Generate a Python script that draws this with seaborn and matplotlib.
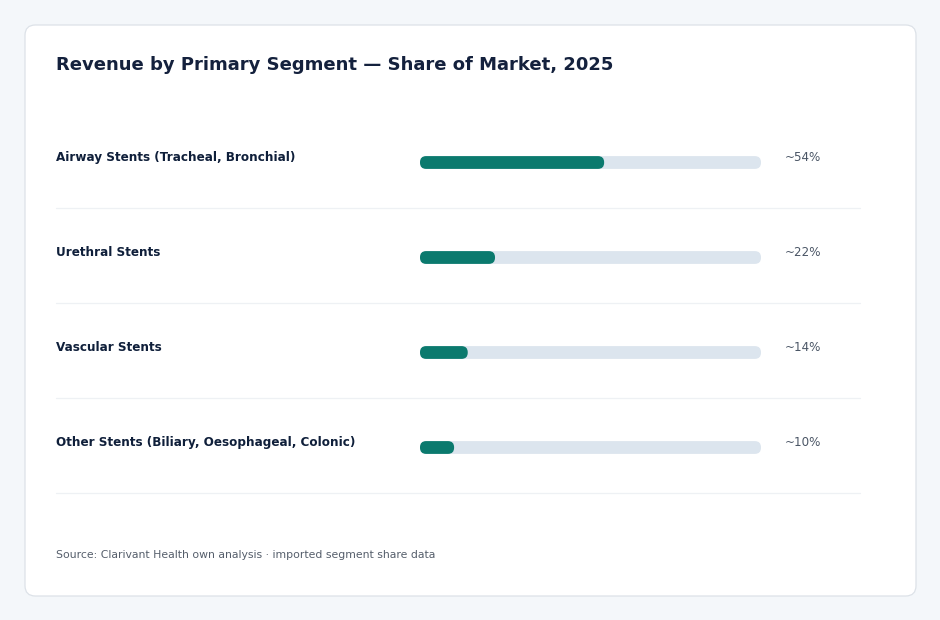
import matplotlib
matplotlib.use('Agg')
import matplotlib.pyplot as plt
import matplotlib.transforms as mtransforms
from matplotlib.patches import FancyBboxPatch
import seaborn as sns
import pandas as pd

sns.set_style('white')
plt.rcParams['font.family'] = ['DejaVu Sans']

# data
segments = ['Airway Stents (Tracheal, Bronchial)', 'Urethral Stents',
            'Vascular Stents', 'Other Stents (Biliary, Oesophageal, Colonic)']
shares = [54, 22, 14, 10]
share_labels = ['~54%', '~22%', '~14%', '~10%']
title = 'Revenue by Primary Segment \u2014 Share of Market, 2025'
source = 'Source: Clarivant Health own analysis \u00b7 imported segment share data'

df = pd.DataFrame({'segment': segments, 'share': shares, 'track': [100] * len(segments)})

W, H = 940, 620
fig = plt.figure(figsize=(W / 100, H / 100), dpi=100)
fig.patch.set_facecolor('#f4f7fa')

# card
card = FancyBboxPatch((25 / W, 1 - 596 / H), 891 / W, 571 / H,
                      boxstyle='round,pad=0,rounding_size=0.011',
                      mutation_aspect=W / H, transform=fig.transFigure,
                      facecolor='white', edgecolor='#dde2e8', linewidth=0.9, zorder=-5)
fig.patches.append(card)

ax = fig.add_axes([420 / W, 1 - 495 / H, 341 / W, 380 / H])
ax.set_facecolor('none')

bar_h = 12.8 / 95
sns.barplot(data=df, y='segment', x='track', orient='h', color='#dce5ee',
            width=bar_h, ax=ax, saturation=1)
sns.barplot(data=df, y='segment', x='share', orient='h', color='#0b7a6e',
            width=bar_h, ax=ax, saturation=1)
ax.set_xlim(0, 100)
ax.set_ylim(3.5, -0.5)

# round the bar ends
x_per_px = 100 / 341
y_per_px = 1 / 95
for p in list(ax.patches):
    x0, y0 = p.get_x(), p.get_y()
    w, h = p.get_width(), p.get_height()
    rp = FancyBboxPatch((x0, y0), w, h,
                        boxstyle=f'round,pad=0,rounding_size={6.2 * x_per_px}',
                        mutation_aspect=y_per_px / x_per_px,
                        facecolor=p.get_facecolor(), edgecolor='none', zorder=p.get_zorder())
    p.remove()
    ax.add_patch(rp)

ax.axis('off')

tr = mtransforms.blended_transform_factory(fig.transFigure, ax.transData)
for i, (seg, lab) in enumerate(zip(segments, share_labels)):
    ax.text(56 / W, i - 0.055, seg, transform=tr, ha='left', va='center',
            fontsize=8.65, fontweight='bold', color='#0f1f3a')
    ax.text(785 / W, i - 0.055, lab, transform=tr, ha='left', va='center',
            fontsize=8.6, color='#4a5565')
    ax.plot([56 / W, 860 / W], [i + 0.48, i + 0.48], transform=tr,
            color='#eef1f4', linewidth=0.9, clip_on=False)

fig.text(56 / W, 1 - 65 / H, title, ha='left', va='center',
         fontsize=13, fontweight='bold', color='#14213d')
fig.text(56 / W, 1 - 555 / H, source, ha='left', va='center',
         fontsize=7.85, color='#555e6b')

fig.savefig('out.png', dpi=100, facecolor=fig.get_facecolor())
